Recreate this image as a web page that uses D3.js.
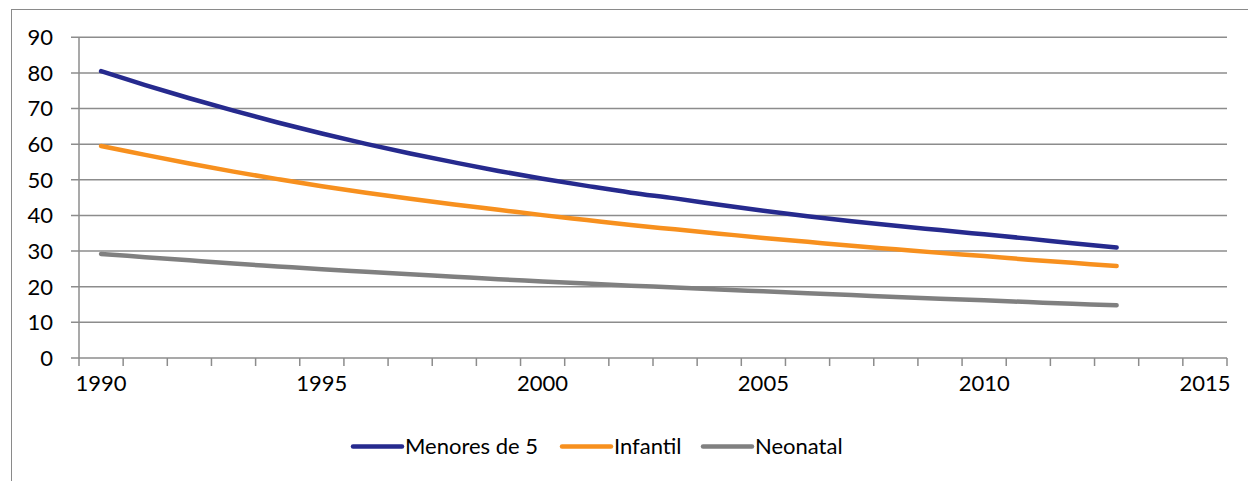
<!DOCTYPE html>
<html>
<head>
<meta charset="utf-8">
<script src="https://cdn.jsdelivr.net/npm/d3@7"></script>
<style>
  html, body { margin: 0; padding: 0; background: #fff; }
  svg { display: block; font-family: Lato, "Open Sans", sans-serif; }
</style>
</head>
<body>
<script>
// categories: one per year, axis runs 1990..2015, data stops at 2013
const years = d3.range(1990, 2016)
const dataYears = d3.range(1990, 2014)
const labelYears = [1990, 1995, 2000, 2005, 2010, 2015]
const yTicks = [0, 10, 20, 30, 40, 50, 60, 70, 80, 90]

const menores = [80.5, 76.6, 72.9, 69.4, 66.1, 63.0, 60.1, 57.4, 54.9, 52.5, 50.3, 48.3,
  46.4, 44.8, 43.0, 41.3, 39.8, 38.4, 37.1, 35.9, 34.7, 33.5, 32.2, 31.0]
const infantil = [59.5, 57.0, 54.6, 52.3, 50.2, 48.2, 46.4, 44.7, 43.1, 41.6, 40.1, 38.7,
  37.3, 36.1, 34.9, 33.7, 32.6, 31.5, 30.5, 29.5, 28.6, 27.6, 26.7, 25.8]
const neonatal = [29.2, 28.3, 27.4, 26.5, 25.7, 24.9, 24.2, 23.5, 22.8, 22.1, 21.5, 20.9,
  20.3, 19.8, 19.2, 18.7, 18.2, 17.7, 17.1, 16.6, 16.2, 15.7, 15.2, 14.8]

const seriesNames = ['Menores de 5', 'Infantil', 'Neonatal']
const seriesColors = ['#262a8e', '#f7901e', '#808080']
const seriesValues = [menores, infantil, neonatal]

const width = 1248, height = 481
const margin = { left: 79, right: 21, top: 37.3, bottom: 123 }
const gridColor = '#8c8c8c'

const svg = d3.select('body').append('svg')
    .attr('width', width)
    .attr('height', height)

// outer chart border (only top and left are inside the window)
svg.append('rect')
    .attr('x', 11.5)
    .attr('y', 9.5)
    .attr('width', width + 20)
    .attr('height', height + 20)
    .attr('fill', 'none')
    .attr('stroke', '#8a8a8a')
    .attr('stroke-width', 1)

const x = d3.scaleBand()
    .domain(years)
    .range([margin.left, width - margin.right])
    .padding(0)

const y = d3.scaleLinear()
    .domain([0, 90])
    .range([height - margin.bottom, margin.top])

const cx = (yr) => x(yr) + x.bandwidth() / 2

// horizontal gridlines, with the tick stub to the left of the axis
svg.append('g')
  .selectAll('line')
  .data(yTicks)
  .enter().append('line')
    .attr('x1', margin.left - 8)
    .attr('x2', width - margin.right)
    .attr('y1', d => y(d))
    .attr('y2', d => y(d))
    .attr('stroke', gridColor)
    .attr('stroke-width', 1.5)

// y axis line
svg.append('line')
    .attr('x1', margin.left)
    .attr('x2', margin.left)
    .attr('y1', y(90))
    .attr('y2', y(0))
    .attr('stroke', gridColor)
    .attr('stroke-width', 1.5)

svg.append('g')
  .selectAll('text')
  .data(yTicks)
  .enter().append('text')
    .attr('x', 53)
    .attr('y', d => y(d))
    .attr('dy', '0.36em')
    .attr('text-anchor', 'end')
    .attr('font-size', 22)
    .attr('fill', '#000')
    .text(d => d)

// x ticks on category boundaries
const bounds = years.map(yr => x(yr)).concat([x(2015) + x.bandwidth()])
svg.append('g')
  .selectAll('line')
  .data(bounds)
  .enter().append('line')
    .attr('x1', d => d)
    .attr('x2', d => d)
    .attr('y1', y(0))
    .attr('y2', y(0) + 8)
    .attr('stroke', gridColor)
    .attr('stroke-width', 1.5)

svg.append('g')
  .selectAll('text')
  .data(labelYears)
  .enter().append('text')
    .attr('x', d => cx(d))
    .attr('y', y(0) + 25)
    .attr('dy', '0.36em')
    .attr('text-anchor', 'middle')
    .attr('font-size', 22)
    .attr('fill', '#000')
    .text(d => d)

const line = d3.line()
    .x((d, i) => cx(dataYears[i]))
    .y(d => y(d))
    .curve(d3.curveCatmullRom)

svg.append('g')
  .selectAll('path')
  .data(seriesValues)
  .enter().append('path')
    .attr('d', line)
    .attr('fill', 'none')
    .attr('stroke', (d, i) => seriesColors[i])
    .attr('stroke-width', 4.5)
    .attr('stroke-linecap', 'round')
    .attr('stroke-linejoin', 'round')

// legend
const legendX = [353, 562, 703]
const legendY = 446.5
const legend = svg.append('g')
  .selectAll('g')
  .data(seriesNames)
  .enter().append('g')
    .attr('transform', (d, i) => `translate(${legendX[i]},${legendY})`)

legend.append('line')
    .attr('x1', 0)
    .attr('x2', 49)
    .attr('stroke', (d, i) => seriesColors[i])
    .attr('stroke-width', 4.5)
    .attr('stroke-linecap', 'round')

legend.append('text')
    .attr('x', 52)
    .attr('dy', '0.36em')
    .attr('font-size', 22)
    .attr('fill', '#000')
    .text(d => d)
</script>
</body>
</html>
